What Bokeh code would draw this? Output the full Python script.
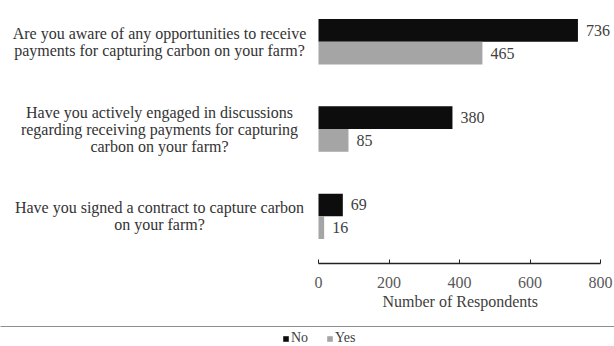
from bokeh.plotting import figure
from bokeh.layouts import column
from bokeh.models import (ColumnDataSource, Legend, LegendItem, FactorRange, Range1d, LabelSet,
                          Title)
from bokeh.transform import dodge
from bokeh.core.properties import value
from bokeh.embed import file_html
from bokeh.resources import INLINE

questions = [
    "Are you aware of any opportunities to receive\npayments for capturing carbon on your farm?",
    "Have you actively engaged in discussions\nregarding receiving payments for capturing\ncarbon on your farm?",
    "Have you signed a contract to capture carbon\non your farm?",
]
series = ["No", "Yes"]
no_vals = [736, 380, 69]
yes_vals = [465, 85, 16]
x_ticks = [0, 200, 400, 600, 800]
x_min, x_max = 0, 800

FONT = "Liberation Serif"
C_NO, C_YES = "#0d0d0d", "#a5a5a5"
LINE_PX = 17
SHIFT = 0.04   # group sits slightly above the category centre
BAR_H = 0.26

src = ColumnDataSource(dict(q=questions, no=no_vals, yes=yes_vals,
                            no_lbl=[str(v) for v in no_vals],
                            yes_lbl=[str(v) for v in yes_vals]))

# one label per text line so each line can be centred
ln_q, ln_txt, ln_off = [], [], []
for q in questions:
    lines = q.split("\n")
    n = len(lines)
    for i, t in enumerate(lines):
        ln_q.append(q)
        ln_txt.append(t)
        ln_off.append(((n - 1) / 2 - i) * LINE_PX)
lines_src = ColumnDataSource(dict(q=ln_q, t=ln_txt, off=ln_off, zero=[0] * len(ln_q)))

# frame spans the full width; value axis occupies 318..600 px
px_per_unit = 282 / (x_max - x_min)
p = figure(y_range=FactorRange(factors=list(reversed(questions))),
           x_range=Range1d(x_min - 318 / px_per_unit, x_max + 14 / px_per_unit),
           frame_width=614, frame_height=262,
           min_border_left=0, min_border_right=0, min_border_top=1, min_border_bottom=63,
           output_backend="svg", toolbar_location=None)
p.y_range.range_padding = 0

y_no = dodge("q", SHIFT + BAR_H / 2, range=p.y_range)
y_yes = dodge("q", SHIFT - BAR_H / 2, range=p.y_range)

p.hbar(y=y_no, right="no", left=0, height=BAR_H, source=src, fill_color=C_NO, line_color=None)
p.hbar(y=y_yes, right="yes", left=0, height=BAR_H, source=src, fill_color=C_YES, line_color=None)

p.add_layout(LabelSet(x="no", y=y_no, text="no_lbl", source=src,
                      x_offset=8, text_baseline="middle", text_align="left",
                      text_font=value(FONT), text_font_size="16px", text_color="#404040"))
p.add_layout(LabelSet(x="yes", y=y_yes, text="yes_lbl", source=src,
                      x_offset=8, text_baseline="middle", text_align="left",
                      text_font=value(FONT), text_font_size="16px", text_color="#404040"))

# category labels, centred text lines left of the bars
p.add_layout(LabelSet(x="zero", y=dodge("q", SHIFT, range=p.y_range), text="t", source=lines_src,
                      x_offset=-159, y_offset="off", text_baseline="middle", text_align="center",
                      text_font=value(FONT), text_font_size="16px", text_color="#333333"))

p.xaxis.ticker = x_ticks
p.xaxis.bounds = (x_min, x_max)
p.xaxis.major_label_text_font = FONT
p.xaxis.major_label_text_font_size = "16px"
p.xaxis.major_label_text_color = "#595959"
p.xaxis.axis_line_color = "#222222"
p.xaxis.axis_line_width = 1.5
p.xaxis.major_tick_line_color = "#222222"
p.xaxis.major_tick_in = 4
p.xaxis.major_tick_out = 0
p.xaxis.minor_tick_line_color = None
p.xaxis.major_label_standoff = 13

p.yaxis.visible = False
p.xgrid.grid_line_color = None
p.ygrid.grid_line_color = None
p.outline_line_color = None

# axis title centred under the value axis
p.add_layout(Title(text="Number of Respondents", align="left", offset=382,
                   text_font=FONT, text_font_size="16px", text_font_style="normal",
                   text_color="#404040", standoff=0), "below")

# legend strip: swatch renderers use the same data, which lies outside this strip's ranges
p2 = figure(x_range=Range1d(0, 1), y_range=Range1d(0, 1),
            frame_width=614, frame_height=20,
            min_border_left=0, min_border_right=0, min_border_top=0, min_border_bottom=0,
            output_backend="svg", toolbar_location=None)
p2.axis.visible = False
p2.grid.grid_line_color = None
p2.outline_line_color = None
sw_no = p2.hbar(y="no", right="no", left=0, height=BAR_H, source=src,
                fill_color=C_NO, line_color=None)
sw_yes = p2.hbar(y="yes", right="yes", left=0, height=BAR_H, source=src,
                 fill_color=C_YES, line_color=None)

legend = Legend(items=[LegendItem(label=series[0], renderers=[sw_no]),
                       LegendItem(label=series[1], renderers=[sw_yes])],
                orientation="horizontal", location=(282, 0),
                border_line_color=None, background_fill_alpha=0,
                label_text_font=FONT, label_text_font_size="14px",
                label_text_color="#404040", glyph_width=7, glyph_height=7,
                spacing=15, label_standoff=2, padding=0, margin=0)
p2.add_layout(legend, "center")

layout = column(p, p2, spacing=0)
open("out.html", "w").write(file_html(layout, INLINE))
